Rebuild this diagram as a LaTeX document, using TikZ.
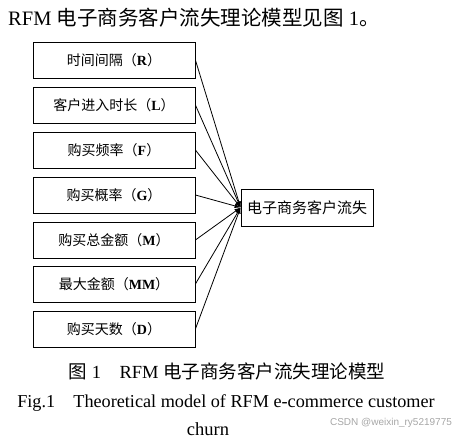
\documentclass[tikz,border=0pt]{standalone}
\usepackage{fontspec}
\setmainfont{Liberation Serif}
\newfontfamily\cjk{Noto Sans CJK SC}
\newfontfamily\wm{Liberation Sans}
\usetikzlibrary{arrows.meta}
\newcommand{\lt}[1]{\textbf{#1}}
\begin{document}
\begin{tikzpicture}[x=1pt,y=-1pt,
  box/.style={draw, line width=0.8pt, minimum width=162pt, minimum height=36pt, inner sep=0pt, font=\fontsize{14}{14}\selectfont},
  outbox/.style={draw, line width=0.8pt, minimum width=132pt, minimum height=37pt, inner sep=0pt, font=\fontsize{15}{15}\selectfont},
  conn/.style={line width=0.8pt, -{Latex[length=6pt,width=4.5pt]}},
  capt/.style={inner sep=0pt, font=\fontsize{18.5}{18.5}\selectfont}]
\useasboundingbox (0,0) rectangle (465,438);
\node[capt, anchor=base west, font=\fontsize{20.5}{20.5}\selectfont] (title) at (8,26) {RFM {\cjk 电子商务客户流失理论模型见图} 1{\cjk 。}};
\node[box] (b1) at (114,60) {{\cjk 时间间隔（}\lt{R}{\cjk ）}};
\node[box] (b2) at (114,105) {{\cjk 客户进入时长（}\lt{L}{\cjk ）}};
\node[box] (b3) at (114,150) {{\cjk 购买频率（}\lt{F}{\cjk ）}};
\node[box] (b4) at (114,195) {{\cjk 购买概率（}\lt{G}{\cjk ）}};
\node[box] (b5) at (114,240) {{\cjk 购买总金额（}\lt{M}{\cjk ）}};
\node[box] (b6) at (114,284) {{\cjk 最大金额（}\lt{MM}{\cjk ）}};
\node[box] (b7) at (114,329) {{\cjk 购买天数（}\lt{D}{\cjk ）}};
\node[outbox] (out) at (307,207.5) {\cjk 电子商务客户流失};
\foreach \i in {1,...,7} \draw[conn] (b\i.east) -- (out.west);
\node[capt, anchor=base] (c1) at (227,378) {{\cjk 图} 1\hspace{1em}RFM {\cjk 电子商务客户流失理论模型}};
\node[capt, anchor=base, font=\fontsize{18.2}{18.2}\selectfont] (c2) at (226,407) {Fig.1\hspace{1em}Theoretical model of RFM e-commerce customer};
\node[capt, anchor=base] (c3) at (208,435) {churn};
\node[inner sep=0pt, font=\wm\fontsize{10}{10}\selectfont, text=black!35] (wmk) at (391,423) {CSDN @weixin\_ry5219775};
\end{tikzpicture}
\end{document}
